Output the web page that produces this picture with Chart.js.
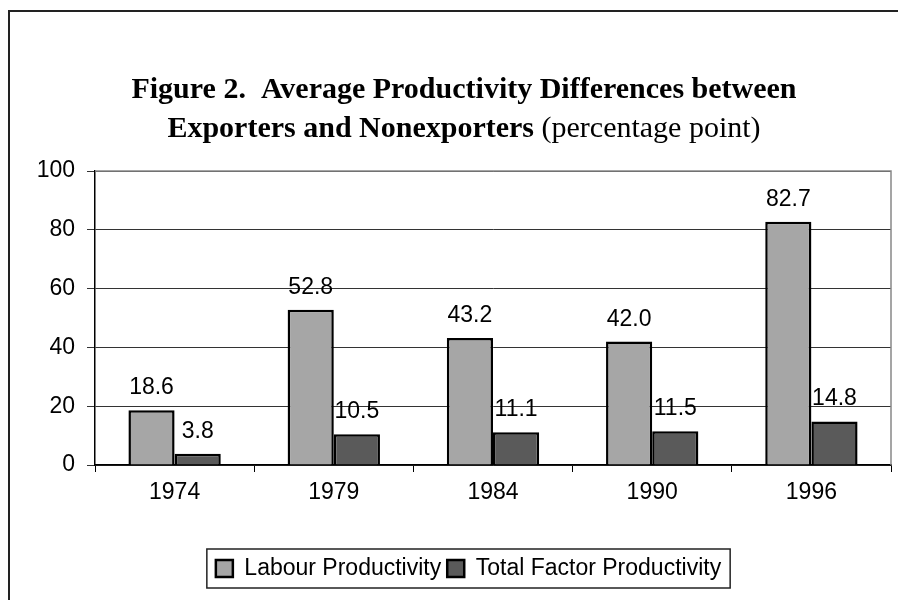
<!DOCTYPE html>
<html>
<head>
<meta charset="utf-8">
<script src="https://cdn.jsdelivr.net/npm/chart.js@4"></script>
<style>
  html, body { margin: 0; padding: 0; background: #fff; }
  #wrap { width: 898px; height: 600px; position: relative; }
</style>
</head>
<body>
<div id="wrap"><canvas id="prodChart" width="898" height="600"></canvas></div>
<script>
const years = ['1974', '1979', '1984', '1990', '1996'];
const labourProd = [18.6, 52.8, 43.2, 42.0, 82.7];
const tfpProd = [3.8, 10.5, 11.1, 11.5, 14.8];
const yTicks = [0, 20, 40, 60, 80, 100];

const sansFont = 'Liberation Sans, Arial, sans-serif';
const serifFont = 'Liberation Serif, Times New Roman, serif';

// white page with the frame line on left and top
const framePlugin = {
    id: 'frame',
    beforeDraw(chart) {
        const ctx = chart.ctx;
        ctx.save();
        ctx.fillStyle = '#fff';
        ctx.fillRect(0, 0, chart.width, chart.height);
        ctx.strokeStyle = '#222';
        ctx.lineWidth = 2;
        ctx.beginPath();
        ctx.moveTo(9, chart.height);
        ctx.lineTo(9, 11);
        ctx.lineTo(chart.width, 11);
        ctx.stroke();
        ctx.restore();
    },
    beforeDatasetsDraw(chart) {
        const a = chart.chartArea;
        const ctx = chart.ctx;
        ctx.save();
        ctx.strokeStyle = '#888';
        ctx.lineWidth = 1.5;
        ctx.beginPath();
        ctx.moveTo(a.left, a.top);
        ctx.lineTo(a.right, a.top);
        ctx.lineTo(a.right, a.bottom);
        ctx.stroke();
        ctx.restore();
    }
};

// two line title, second line mixes bold and normal
const titlePlugin = {
    id: 'mixedTitle',
    afterDraw(chart) {
        const ctx = chart.ctx;
        const cx = 464;
        ctx.save();
        ctx.fillStyle = '#000';
        ctx.textBaseline = 'alphabetic';
        ctx.textAlign = 'left';
        const bold = 'bold 30px ' + serifFont;
        const normal = '30px ' + serifFont;
        ctx.font = bold;
        const line1 = 'Figure 2.  Average Productivity Differences between';
        let w = ctx.measureText(line1).width;
        ctx.fillText(line1, cx - w / 2, 98);
        const partA = 'Exporters and Nonexporters ';
        const partB = '(percentage point)';
        const wa = ctx.measureText(partA).width;
        ctx.font = normal;
        const wb = ctx.measureText(partB).width;
        const x0 = cx - (wa + wb) / 2;
        ctx.font = bold;
        ctx.fillText(partA, x0, 137);
        ctx.font = normal;
        ctx.fillText(partB, x0 + wa, 137);
        ctx.restore();
    }
};

// value labels above bars
const valueLabelPlugin = {
    id: 'valueLabels',
    afterDatasetsDraw(chart) {
        const ctx = chart.ctx;
        ctx.save();
        ctx.font = '23px ' + sansFont;
        ctx.fillStyle = '#000';
        ctx.textAlign = 'center';
        ctx.textBaseline = 'alphabetic';
        chart.data.datasets.forEach((ds, i) => {
            chart.getDatasetMeta(i).data.forEach((bar, j) => {
                ctx.fillText(ds.data[j].toFixed(1), bar.x, bar.y - 16);
            });
        });
        ctx.restore();
    }
};

// legend sits a bit right of centre, with a box round it
const legendShift = 23;
const legendBoxPlugin = {
    id: 'legendBox',
    afterUpdate(chart) {
        const lg = chart.legend;
        lg.left += legendShift;
        lg.right += legendShift;
    },
    afterDraw(chart) {
        const lg = chart.legend;
        const boxes = lg.legendHitBoxes;
        if (!boxes || !boxes.length) return;
        const pad = lg.options.labels.padding;
        const rowW = lg.lineWidths[0];
        const x0 = (lg.left + pad + lg.right - rowW) / 2;
        const x1 = x0 + rowW - 2 * pad;
        const top = lg.top + pad;
        const h = boxes[0].height;
        const ctx = chart.ctx;
        ctx.save();
        ctx.strokeStyle = '#222';
        ctx.lineWidth = 1.5;
        ctx.strokeRect(x0 - 9, top - 8, x1 - x0 + 24, h + 16);
        ctx.restore();
    }
};

const ctx = document.getElementById('prodChart').getContext('2d');
new Chart(ctx, {
    type: 'bar',
    data: {
        labels: years,
        datasets: [{
            label: 'Labour Productivity',
            data: labourProd,
            backgroundColor: '#a6a6a6',
            borderColor: '#000',
            borderWidth: 2.5,
            categoryPercentage: 0.58,
            barPercentage: 1.0
        }, {
            label: 'Total Factor Productivity',
            data: tfpProd,
            backgroundColor: '#5a5a5a',
            borderColor: '#000',
            borderWidth: 2.5,
            categoryPercentage: 0.58,
            barPercentage: 1.0
        }]
    },
    options: {
        responsive: false,
        animation: false,
        layout: {
            padding: { left: 0, right: 7, top: 171, bottom: 10 }
        },
        plugins: {
            tooltip: { enabled: false },
            title: { display: false },
            legend: {
                position: 'bottom',
                labels: {
                    color: '#000',
                    font: { family: sansFont, size: 23 },
                    boxWidth: 17,
                    boxHeight: 17,
                    padding: 6
                }
            }
        },
        scales: {
            x: {
                afterFit: s => { s.height = 86; },
                grid: {
                    offset: true,
                    drawOnChartArea: false,
                    color: '#000',
                    tickLength: 7
                },
                border: { color: '#000', width: 1.5 },
                ticks: {
                    color: '#000',
                    font: { family: sansFont, size: 23 },
                    padding: 7
                }
            },
            y: {
                min: 0,
                max: 100,
                afterFit: s => { s.width = 95; },
                afterBuildTicks: s => { s.ticks = yTicks.map(v => ({ value: v })); },
                grid: {
                    color: '#333',
                    lineWidth: 1,
                    tickLength: 8
                },
                border: { color: '#000', width: 1.5 },
                ticks: {
                    color: '#000',
                    font: { family: sansFont, size: 23 },
                    padding: 12
                }
            }
        }
    },
    plugins: [framePlugin, valueLabelPlugin, legendBoxPlugin, titlePlugin]
});
</script>
</body>
</html>
